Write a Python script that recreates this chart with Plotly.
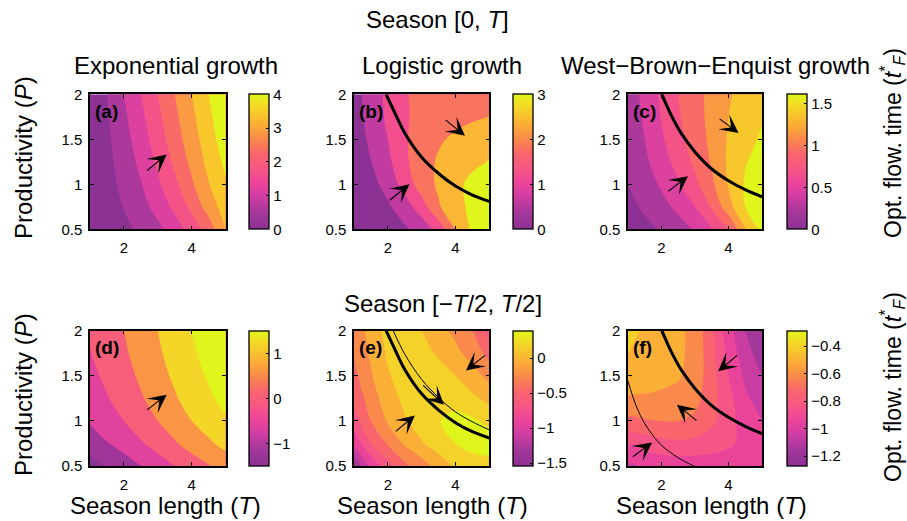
import plotly.graph_objects as go

W, H = 907, 521
FONT = "Liberation Sans, Arial, Helvetica, sans-serif"

# ---------------- data ----------------
T_GRID = [1.0, 1.5, 2.0, 2.5, 3.0, 3.5, 4.0, 4.5, 5.0]          # season length T
P_GRID = [0.5, 0.75, 1.0, 1.25, 1.5, 1.75, 2.0]                   # productivity P

# optimal flowering time, rows follow P_GRID, columns follow T_GRID
Z_A = [[0.00, 0.18, 0.38, 0.60, 0.88, 1.25, 1.70, 2.25, 3.00],
       [0.00, 0.26, 0.52, 0.82, 1.17, 1.63, 2.13, 2.72, 3.24],
       [0.00, 0.31, 0.63, 0.97, 1.41, 1.89, 2.43, 2.98, 3.45],
       [0.00, 0.36, 0.72, 1.12, 1.60, 2.10, 2.63, 3.14, 3.62],
       [0.00, 0.40, 0.81, 1.26, 1.76, 2.27, 2.78, 3.27, 3.77],
       [0.00, 0.45, 0.90, 1.38, 1.88, 2.39, 2.89, 3.39, 3.89],
       [0.00, 0.50, 1.00, 1.50, 2.00, 2.50, 3.00, 3.50, 4.00]]

Z_B = [[0.00, 0.14, 0.28, 0.43, 0.67, 1.20, 2.00, 2.60, 2.75],
       [0.00, 0.22, 0.43, 0.76, 1.28, 1.95, 2.33, 2.62, 2.78],
       [0.05, 0.33, 0.68, 1.20, 1.74, 2.08, 2.38, 2.62, 2.75],
       [0.15, 0.49, 0.88, 1.42, 1.74, 2.07, 2.25, 2.40, 2.52],
       [0.22, 0.60, 1.00, 1.45, 1.70, 1.93, 2.10, 2.25, 2.38],
       [0.28, 0.68, 1.10, 1.46, 1.60, 1.72, 1.82, 1.92, 2.00],
       [0.30, 0.72, 1.12, 1.46, 1.65, 1.78, 1.86, 1.92, 1.95]]

Z_C = [[0.10, 0.15, 0.22, 0.31, 0.42, 0.58, 0.80, 1.18, 1.46],
       [0.15, 0.23, 0.33, 0.45, 0.60, 0.82, 1.12, 1.40, 1.50],
       [0.20, 0.30, 0.43, 0.58, 0.75, 0.96, 1.22, 1.42, 1.50],
       [0.23, 0.36, 0.51, 0.67, 0.84, 1.02, 1.23, 1.39, 1.46],
       [0.26, 0.40, 0.57, 0.74, 0.89, 1.05, 1.22, 1.35, 1.42],
       [0.28, 0.43, 0.61, 0.78, 0.92, 1.06, 1.20, 1.31, 1.39],
       [0.30, 0.45, 0.64, 0.80, 0.93, 1.06, 1.18, 1.27, 1.35]]

Z_D = [[-1.20, -0.98, -0.75, -0.50, -0.25, 0.00, 0.25, 0.47, 0.70],
       [-0.75, -0.53, -0.30, -0.05, 0.20, 0.45, 0.70, 0.92, 1.15],
       [-0.45, -0.23, 0.00, 0.25, 0.50, 0.75, 1.00, 1.22, 1.45],
       [-0.25, -0.03, 0.20, 0.45, 0.70, 0.95, 1.20, 1.42, 1.65],
       [-0.12, 0.10, 0.33, 0.58, 0.83, 1.08, 1.33, 1.55, 1.78],
       [-0.02, 0.20, 0.43, 0.68, 0.93, 1.18, 1.43, 1.65, 1.88],
       [0.05, 0.27, 0.50, 0.75, 1.00, 1.25, 1.50, 1.72, 1.95]]

Z_E = [[-1.40, -0.95, -0.68, -0.45, -0.30, -0.12, 0.03, 0.12, 0.12],
       [-0.95, -0.60, -0.38, -0.17, -0.02, 0.10, 0.20, 0.26, 0.30],
       [-0.70, -0.40, -0.18, -0.02, 0.10, 0.19, 0.26, 0.23, 0.15],
       [-0.55, -0.30, -0.09, 0.05, 0.15, 0.19, 0.12, 0.04, -0.06],
       [-0.45, -0.22, -0.02, 0.10, 0.15, 0.10, 0.00, -0.12, -0.26],
       [-0.38, -0.17, 0.03, 0.12, 0.08, -0.03, -0.15, -0.28, -0.47],
       [-0.30, -0.14, 0.08, 0.12, 0.00, -0.12, -0.25, -0.39, -0.68]]

Z_F = [[-1.02, -0.99, -0.97, -0.96, -0.96, -0.96, -0.97, -0.98, -0.99],
       [-0.90, -0.86, -0.83, -0.82, -0.83, -0.85, -0.88, -0.93, -0.96],
       [-0.73, -0.71, -0.70, -0.70, -0.72, -0.78, -0.86, -0.95, -1.00],
       [-0.61, -0.61, -0.62, -0.63, -0.67, -0.76, -0.87, -0.98, -1.05],
       [-0.55, -0.56, -0.57, -0.59, -0.64, -0.76, -0.90, -1.02, -1.10],
       [-0.50, -0.54, -0.56, -0.58, -0.63, -0.77, -0.93, -1.06, -1.15],
       [-0.43, -0.53, -0.56, -0.58, -0.63, -0.78, -0.96, -1.10, -1.20]]

# black boundary curves (T, P)
CURVE_B_T = [1.95, 2.2, 2.5, 3.0, 3.5, 4.0, 4.5, 5.0]
CURVE_B_P = [2.0, 1.8, 1.57, 1.3, 1.12, 0.98, 0.88, 0.81]
CURVE_C_T = [2.01, 2.3, 2.6, 3.0, 3.5, 4.0, 4.5, 5.0]
CURVE_C_P = [2.0, 1.76, 1.56, 1.36, 1.17, 1.04, 0.94, 0.86]
CURVE_E_THICK_T = [1.95, 2.2, 2.5, 3.0, 3.5, 4.0, 4.5, 5.0]
CURVE_E_THICK_P = [2.0, 1.8, 1.57, 1.3, 1.12, 0.98, 0.88, 0.81]
CURVE_E_THIN_T = [2.16, 2.5, 3.0, 3.5, 4.0, 4.5, 5.0]
CURVE_E_THIN_P = [2.0, 1.74, 1.46, 1.26, 1.1, 0.99, 0.90]
CURVE_F_THICK_T = [2.01, 2.3, 2.6, 3.0, 3.5, 4.0, 4.5, 5.0]
CURVE_F_THICK_P = [2.0, 1.76, 1.56, 1.36, 1.17, 1.04, 0.94, 0.86]
CURVE_F_THIN_T = [1.0, 1.25, 1.5, 1.75, 2.0, 2.5, 2.96]
CURVE_F_THIN_P = [1.44, 1.16, 0.97, 0.835, 0.73, 0.59, 0.5]

# arrows: [tail T, tail P, head T, head P]
ARROWS_A = [[2.64, 1.14, 3.26, 1.33]]
ARROWS_B = [[2.01, 0.81, 2.64, 1.00], [3.66, 1.73, 4.28, 1.54]]
ARROWS_C = [[2.16, 0.91, 2.79, 1.09], [3.69, 1.74, 4.30, 1.57]]
ARROWS_D = [[2.64, 1.11, 3.26, 1.29]]
ARROWS_E = [[2.19, 0.87, 2.80, 1.06], [3.00, 1.41, 3.66, 1.18], [4.92, 1.74, 4.31, 1.56]]
ARROWS_F = [[1.10, 0.59, 1.72, 0.76], [3.09, 0.99, 2.46, 1.18], [4.30, 1.74, 3.69, 1.55]]

# colour ranges, contour levels and colourbar ticks
CRANGE = {"a": [0, 4], "b": [0, 3], "c": [0, 1.61], "d": [-1.5, 1.5],
          "e": [-1.54, 0.39], "f": [-1.27, -0.29]}
LEVELS = {"a": [0.5, 3.5, 0.5], "b": [0.5, 2.5, 0.5], "c": [0.2, 1.4, 0.2],
          "d": [-1.0, 1.5, 0.5], "e": [-1.4, 0.2, 0.2], "f": [-1.2, -0.4, 0.1]}
CB_TICKS = {"a": [0, 1, 2, 3, 4], "b": [0, 1, 2, 3], "c": [0, 0.5, 1, 1.5],
            "d": [-1, 0, 1], "e": [-1.5, -1, -0.5, 0], "f": [-1.2, -1, -0.8, -0.6, -0.4]}
X_TICKS = [2, 4]
Y_TICKS = [0.5, 1, 1.5, 2]

COLORSCALE = [[0.0, "#8c3294"], [0.12, "#a5379b"], [0.25, "#d33ea3"], [0.35, "#ee4598"],
              [0.45, "#f65784"], [0.55, "#f8646e"], [0.65, "#f9844f"], [0.75, "#fba63b"],
              [0.85, "#f8c52d"], [0.93, "#f0e024"], [1.0, "#e0f51c"]]

# ---------------- layout helpers (pixel geometry) ----------------
def px(x):
    return x / W

def py(y):
    return 1 - y / H

PANEL_X = {"a": (90, 225.7), "b": (354, 489.3), "c": (628, 762),
           "d": (90, 225.7), "e": (354, 489.3), "f": (628, 762)}
PANEL_Y = {"a": (94.3, 229.3), "b": (94.3, 229.3), "c": (94.3, 229.3),
           "d": (330.7, 466), "e": (330.7, 466), "f": (330.7, 466)}
CB_X = {"a": 249.3, "b": 513.3, "c": 787, "d": 249.3, "e": 513.3, "f": 787}

Z = {"a": Z_A, "b": Z_B, "c": Z_C, "d": Z_D, "e": Z_E, "f": Z_F}
ARROWS = {"a": ARROWS_A, "b": ARROWS_B, "c": ARROWS_C, "d": ARROWS_D, "e": ARROWS_E, "f": ARROWS_F}
CURVES = {"a": [], "b": [(CURVE_B_T, CURVE_B_P, 3)], "c": [(CURVE_C_T, CURVE_C_P, 3)], "d": [],
          "e": [(CURVE_E_THICK_T, CURVE_E_THICK_P, 3), (CURVE_E_THIN_T, CURVE_E_THIN_P, 1)],
          "f": [(CURVE_F_THICK_T, CURVE_F_THICK_P, 3), (CURVE_F_THIN_T, CURVE_F_THIN_P, 1)]}


def fmt(v):
    s = ("%g" % v)
    return s.replace("-", "\u2212")


fig = go.Figure()
annotations = []
layout = {}

for i, key in enumerate(["a", "b", "c", "d", "e", "f"], start=1):
    xa = "x" if i == 1 else "x%d" % i
    ya = "y" if i == 1 else "y%d" % i
    cmin, cmax = CRANGE[key]
    st, en, sz = LEVELS[key]
    fig.add_trace(go.Contour(
        x=T_GRID, y=P_GRID, z=Z[key], xaxis=xa, yaxis=ya,
        colorscale=COLORSCALE, zmin=cmin, zmax=cmax, zauto=False,
        contours=dict(start=st, end=en, size=sz, coloring="fill", showlines=False),
        line=dict(width=0, smoothing=1.1), showscale=False, hoverinfo="skip"))
    for (ct, cp, lw) in CURVES[key]:
        fig.add_trace(go.Scatter(x=ct, y=cp, xaxis=xa, yaxis=ya, mode="lines",
                                 line=dict(color="black", width=lw, shape="spline"),
                                 hoverinfo="skip", showlegend=False))
    cy = (PANEL_Y[key][0] + PANEL_Y[key][1]) / 2
    fig.add_trace(go.Scatter(
        x=[3, 3], y=[1.2, 1.2], xaxis=xa, yaxis=ya, mode="markers", hoverinfo="skip",
        showlegend=False,
        marker=dict(size=1, opacity=0, color=[cmin, cmax], cmin=cmin, cmax=cmax,
                    colorscale=COLORSCALE, showscale=True,
                    colorbar=dict(x=px(CB_X[key]), xanchor="left", y=py(cy), yanchor="middle",
                                  thickness=20, thicknessmode="pixels",
                                  len=PANEL_Y[key][1] - PANEL_Y[key][0], lenmode="pixels",
                                  xpad=0, ypad=0, outlinewidth=1.3, outlinecolor="black",
                                  ticks="inside", ticklen=3, tickcolor="black",
                                  tickvals=CB_TICKS[key], ticktext=[fmt(v) for v in CB_TICKS[key]],
                                  tickfont=dict(size=15, color="black", family=FONT)))))
    axis_common = dict(showline=True, linecolor="black", linewidth=1.5, mirror="ticks",
                       ticks="inside", ticklen=4, tickwidth=1, tickcolor="black",
                       showgrid=False, zeroline=False,
                       tickfont=dict(size=15, color="black", family=FONT))
    layout["xaxis" if i == 1 else "xaxis%d" % i] = dict(
        domain=[px(PANEL_X[key][0]), px(PANEL_X[key][1])], range=[1, 5], anchor=ya,
        tickvals=X_TICKS, ticktext=[fmt(v) for v in X_TICKS], ticklabelstandoff=4, **axis_common)
    layout["yaxis" if i == 1 else "yaxis%d" % i] = dict(
        domain=[py(PANEL_Y[key][1]), py(PANEL_Y[key][0])], range=[0.5, 2], anchor=xa,
        tickvals=Y_TICKS, ticktext=[fmt(v) for v in Y_TICKS], ticklabelstandoff=3, **axis_common)
    for (t0, p0, t1, p1) in ARROWS[key]:
        annotations.append(dict(x=t1, y=p1, ax=t0, ay=p0, xref=xa, yref=ya, axref=xa, ayref=ya,
                                text="", showarrow=True, arrowhead=3, arrowsize=2.8,
                                arrowwidth=1.1, arrowcolor="black"))
    annotations.append(dict(text="<b>(%s)</b>" % key, x=px(PANEL_X[key][0] + 3),
                            y=py(PANEL_Y[key][0] + 17), xref="paper", yref="paper",
                            xanchor="left", yanchor="middle", showarrow=False,
                            font=dict(size=19, color="black", family=FONT)))


def text_ann(text, x, y, angle=0, size=24):
    annotations.append(dict(text=text, x=px(x), y=py(y), xref="paper", yref="paper",
                            xanchor="center", yanchor="middle", showarrow=False, textangle=angle,
                            font=dict(size=size, color="black", family=FONT)))


text_ann("Season [0, <i>T</i>]", 437.5, 20)
text_ann("Exponential growth", 175.5, 65)
text_ann("Logistic growth", 442, 65)
text_ann("West\u2212Brown\u2212Enquist growth", 715.5, 65)
text_ann("Season [\u2212<i>T</i>/2, <i>T</i>/2]", 443, 303)
for xc in [165, 432.5, 711.7]:
    text_ann("Season length (<i>T</i>)", xc, 505)
for yc in [158, 395]:
    text_ann("Productivity (<i>P</i>)", 23, yc, angle=-90)
for yc in [143, 387]:
    text_ann("Opt. flow. time (<i>t</i><sup>*</sup><sub><i>F</i></sub>)", 892, yc, angle=-90,
             size=23)

fig.update_layout(width=W, height=H, margin=dict(l=0, r=0, t=0, b=0, pad=0, autoexpand=False),
                  paper_bgcolor="white", plot_bgcolor="white", showlegend=False,
                  font=dict(family=FONT, color="black"), annotations=annotations, **layout)

fig.write_html("out.html", config={"displayModeBar": False},
               post_script="document.body.style.margin='0px';")
